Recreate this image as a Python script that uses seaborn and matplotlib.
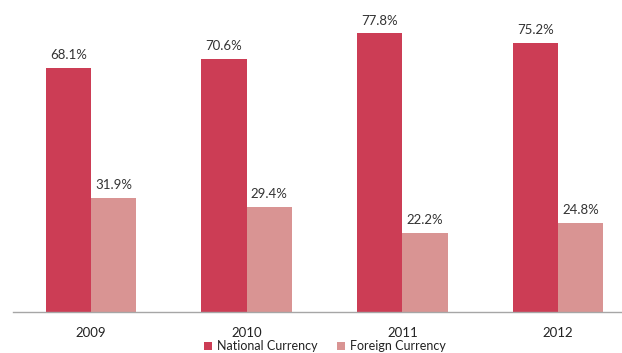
import matplotlib
matplotlib.use("Agg")
import matplotlib.pyplot as plt
import seaborn as sns
import pandas as pd

years = ["2009", "2010", "2011", "2012"]
national = [68.1, 70.6, 77.8, 75.2]
foreign = [31.9, 29.4, 22.2, 24.8]
series_names = ["National Currency", "Foreign Currency"]
colors = ["#CC3D55", "#D99493"]

df = pd.DataFrame({
    "year": years * 2,
    "share": national + foreign,
    "currency": [series_names[0]] * len(years) + [series_names[1]] * len(years),
})

sns.set_theme(style="white")
plt.rcParams["font.family"] = ["Lato", "DejaVu Sans"]

W, H = 622, 353
fig = plt.figure(figsize=(W / 100, H / 100), dpi=100)
ymax = 85
px_per_unit = 3.58
ax = fig.add_axes([13 / W, 41 / H, 623 / W, ymax * px_per_unit / H])

sns.barplot(data=df, x="year", y="share", hue="currency", palette=colors,
            width=0.58, gap=0, saturation=1, linewidth=0, ax=ax, legend=True)

ax.set_ylim(0, ymax)
ax.set_xlim(-0.5, len(years) - 0.5)

for cont in ax.containers:
    labels = [f"{v:.1f}%" for v in cont.datavalues]
    ax.bar_label(cont, labels=labels, padding=5, fontsize=9.5, color="#333333")

for s in ["top", "right", "left"]:
    ax.spines[s].set_visible(False)
ax.spines["bottom"].set_color("#A6A6A6")
ax.spines["bottom"].set_linewidth(1)

ax.set_yticks([])
ax.set_xlabel("")
ax.set_ylabel("")
ax.tick_params(axis="x", which="major", length=0, pad=11, labelsize=9.5, labelcolor="#222222")
ax.set_xticks([i - 0.5 for i in range(len(years) + 1)], minor=True)
ax.tick_params(axis="x", which="minor", length=4, color="#A6A6A6", width=1, direction="out")

handles, labs = ax.get_legend_handles_labels()
ax.legend(handles, labs, loc="center", bbox_to_anchor=(325 / W, 7 / H),
          bbox_transform=fig.transFigure, ncol=2, frameon=False,
          fontsize=9, handlelength=0.6, handleheight=0.6, handletextpad=0.4,
          columnspacing=1.6, borderpad=0, labelcolor="#222222")

fig.savefig("out.png", dpi=100)
